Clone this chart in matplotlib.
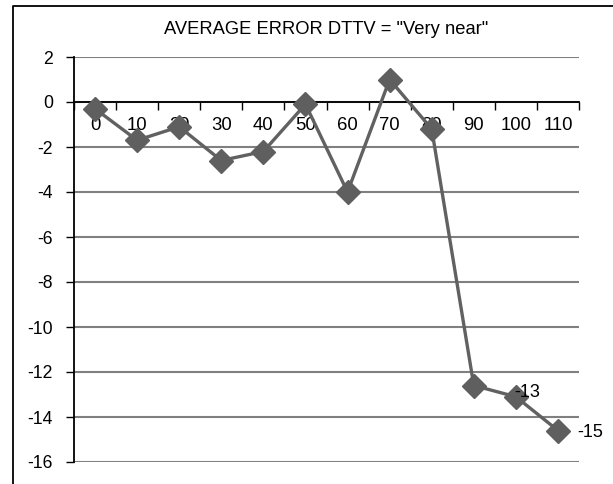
import matplotlib
matplotlib.use("Agg")
import matplotlib.pyplot as plt
from matplotlib.lines import Line2D
import numpy as np

plt.rcParams['axes.unicode_minus'] = False
plt.rcParams['font.family'] = ['Liberation Sans', 'DejaVu Sans']

title = 'AVERAGE ERROR DTTV = "Very near"'
categories = ["0", "10", "20", "30", "40", "50", "60", "70", "80", "90", "100", "110"]
values = [-0.3, -1.7, -1.1, -2.6, -2.2, -0.1, -4.0, 1.0, -1.2, -12.6, -13.1, -14.6]
labelled_points = [10, 11]
y_ticks = [2, 0, -2, -4, -6, -8, -10, -12, -14, -16]

W, H = 613, 484
fig = plt.figure(figsize=(W / 100, H / 100), dpi=100)
ax = fig.add_axes([74 / W, 1 - 462 / H, 505 / W, 405 / H])

x = np.arange(len(categories))
ax.plot(x, values, color='#616161', lw=2.4, marker='D', ms=12,
        mfc='#5f5f5f', mec='#5f5f5f', zorder=3, clip_on=False)

ax.set_xlim(-0.5, len(categories) - 0.5)
ax.set_ylim(min(y_ticks), max(y_ticks))
ax.set_yticks(y_ticks)
ax.set_yticklabels([str(v) for v in y_ticks])

ax.yaxis.grid(True, color='#808080', lw=1.5)
ax.set_axisbelow(True)

for s in ['top', 'right']:
    ax.spines[s].set_visible(False)
ax.spines['bottom'].set_position(('data', 0))
ax.spines['bottom'].set_color('black')
ax.spines['bottom'].set_linewidth(1.3)
ax.spines['bottom'].set_zorder(2.5)
ax.spines['left'].set_color('black')
ax.spines['left'].set_linewidth(1.3)

ax.set_xticks(np.arange(-0.5, len(categories), 1))
ax.set_xticklabels([])
ax.set_xticks(x, minor=True)
ax.set_xticklabels(categories, minor=True)
ax.tick_params(axis='x', which='major', direction='out', length=5.8, width=1.0, color='black')
ax.tick_params(axis='x', which='minor', length=0, pad=10.5, labelsize=13.3)
ax.tick_params(axis='y', direction='out', length=5.8, width=1.0, color='black', pad=9.4, labelsize=12.7)

offsets = {10: (-2, 4), 11: (19, -2)}
for i in labelled_points:
    dx, dy = offsets[i]
    ax.annotate(f"{round(values[i]):.0f}", (x[i], values[i]),
                xytext=(dx * 0.72, dy * 0.72), textcoords='offset points',
                ha='left', va='center', fontsize=13, zorder=4)

fig.text(326 / W, 1 - 30 / H, title, ha='center', va='center',
         family=['Liberation Sans', 'DejaVu Sans'], fontsize=13.2)

fig.add_artist(Line2D([12.7 / W, 12.7 / W, 1], [0, 1 - 5.7 / H, 1 - 5.7 / H],
                      transform=fig.transFigure, color='black', lw=1.3))

fig.savefig('out.png', dpi=100)
